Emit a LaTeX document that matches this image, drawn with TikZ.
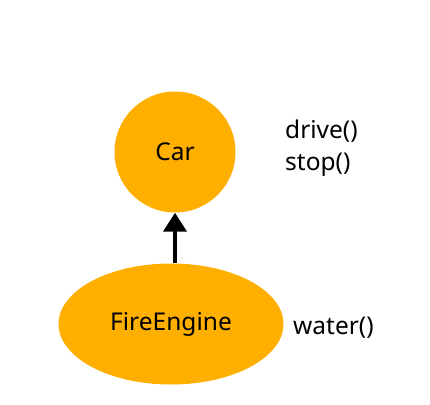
\documentclass[tikz,border=0pt]{standalone}
\usepackage{fontspec}
\setmainfont{Noto Sans}
\usetikzlibrary{arrows.meta,positioning,shapes.geometric}
\definecolor{classfill}{RGB}{255,175,0}
\begin{document}
\begin{tikzpicture}[
    x=1pt,y=-1pt,
    node distance=0pt and 0pt,
    classnode/.style={fill=classfill,inner sep=0pt,font=\fontsize{24.5}{28}\selectfont},
    methods/.style={align=left,inner sep=0pt,anchor=west,
                    font=\fontsize{24.5}{32}\selectfont}]
\useasboundingbox (0,0) rectangle (430,404);
\node (car) [classnode,circle,minimum size=121pt] at (175,152) {Car};
\node (fire) [classnode,ellipse,minimum width=225pt,minimum height=121pt]
        at (171,324) {FireEngine};
\node (carm) [methods] at (285,148) {drive()\\stop()};
\node (firem) [methods] at (293,328) {water()};
\draw[line width=4pt,-{Triangle[width=23pt,length=19pt]}]
        (fire.north -| car.south) -- (car.south);
\end{tikzpicture}
\end{document}
